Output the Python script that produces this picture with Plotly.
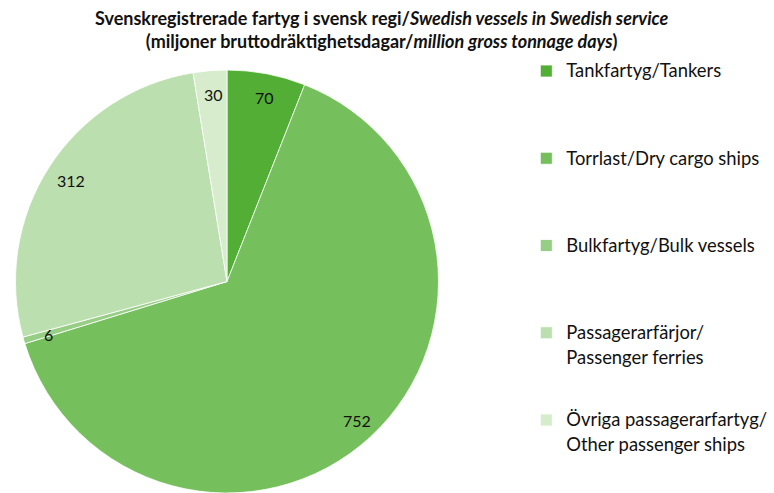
import math
import plotly.graph_objects as go

labels = ["Tankfartyg/Tankers", "Torrlast/Dry cargo ships", "Bulkfartyg/Bulk vessels",
          "Passagerarfärjor/<br>Passenger ferries", "Övriga passagerarfartyg/<br>Other passenger ships"]
values = [70, 752, 6, 312, 30]
colors = ["#52AE34", "#75BF5C", "#97CE85", "#BCDFAF", "#D6ECCC"]

W, H = 774, 493
FONT = "Lato"
LEG_SIZE = 16.2      # nominal legend size (sets entry spacing)
LEG_TEXT = 18.4      # visible legend text size

# legend entries padded so items are spread like the original
legend_labels = []
for i, lab in enumerate(labels):
    parts = lab.split("<br>")
    lines = [f'<span style="font-size:{LEG_TEXT}px">{parts[0]}</span>']
    for p in parts[1:]:
        lines.append(f'<sub><span style="font-size:{LEG_TEXT}px">{p}</span></sub>')
    if i < len(labels) - 1:
        while len(lines) < 4:
            lines.append("\u00a0")
    legend_labels.append("<br>".join(lines))

# pie geometry (pixels)
cx, cy, r = 227, 281.5, 211.5
dom_x = [(cx - r) / W, (cx + r) / W]
dom_y = [0, (H - (cy - r)) / H]

fig = go.Figure(go.Pie(
    labels=legend_labels, values=values, sort=False, direction="clockwise", rotation=0,
    marker=dict(colors=colors, line=dict(color="white", width=0.8)),
    textinfo="none", hoverinfo="value",
    domain=dict(x=dom_x, y=dom_y),
))

# value labels placed along each slice's mid-angle
total = sum(values)
cum = 0
annotations = []
for v in values:
    mid = (cum + v / 2) / total * 2 * math.pi
    cum += v
    rf = 0.89 * r
    px = cx + 2 + rf * math.sin(mid)
    py = cy + 1 - rf * math.cos(mid)
    annotations.append(dict(x=px / W, y=1 - py / H, xref="paper", yref="paper",
                            xanchor="center", yanchor="middle",
                            text=str(v), showarrow=False,
                            font=dict(family=FONT, size=16, color="#111")))

annotations.append(dict(
    text="<b>Svenskregistrerade fartyg i svensk regi/<i>Swedish vessels in Swedish service</i><br>"
         "(miljoner bruttodräktighetsdagar/<i>million gross tonnage days</i>)</b>",
    x=0.494, xanchor="center", y=1 - 5 / H, yanchor="top", xref="paper", yref="paper",
    showarrow=False, font=dict(family=FONT, size=18, color="#111")))

fig.update_layout(
    width=W, height=H,
    margin=dict(l=0, r=0, t=0, b=0, autoexpand=False),
    paper_bgcolor="white",
    legend=dict(x=0.68, xanchor="left", y=(H - 54) / H, yanchor="top",
                valign="top", font=dict(family=FONT, size=LEG_SIZE, color="#111"),
                bgcolor="rgba(0,0,0,0)"),
    annotations=annotations,
    font=dict(family=FONT),
)

fig.write_html(
    "out.html",
    config={"displayModeBar": False},
    post_script=("document.body.style.margin='0px';"
                 "document.body.style.overflow='hidden';"
                 "document.documentElement.style.overflow='hidden';"),
)
